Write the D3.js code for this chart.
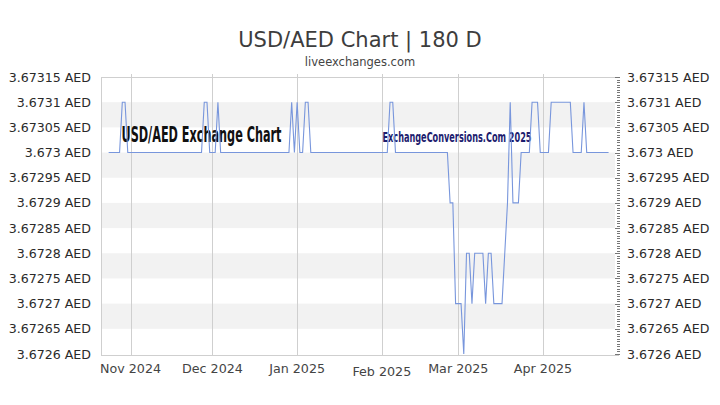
<!DOCTYPE html>
<html>
<head>
<meta charset="utf-8">
<script src="https://cdn.jsdelivr.net/npm/d3@7"></script>
<style>
  html, body { margin: 0; padding: 0; background: #fff; }
  svg { display: block; font-family: "DejaVu Sans", sans-serif; }
</style>
</head>
<body>
<svg id="chart" width="720" height="405"></svg>
<script>
// ---------- DATA ----------
const titleText = "USD/AED Chart | 180 D";
const subtitleText = "liveexchanges.com";
const startDate = "2024-10-24"; // first daily point
const rates = [
  // Oct 24 - Oct 31
  3.673, 3.673, 3.673, 3.673, 3.673, 3.6731, 3.6731, 3.673,
  // Nov 1 - Nov 30
  3.673, 3.673, 3.673, 3.673, 3.673, 3.673, 3.673, 3.673, 3.673, 3.673,
  3.673, 3.673, 3.673, 3.673, 3.673, 3.673, 3.673, 3.673, 3.673, 3.673,
  3.673, 3.673, 3.673, 3.673, 3.673, 3.673, 3.673, 3.6731, 3.6731, 3.673,
  // Dec 1 - Dec 31
  3.673, 3.673, 3.6731, 3.673, 3.673, 3.673, 3.673, 3.673, 3.673, 3.673,
  3.673, 3.673, 3.673, 3.673, 3.673, 3.673, 3.673, 3.673, 3.673, 3.673,
  3.673, 3.673, 3.673, 3.673, 3.673, 3.673, 3.673, 3.673, 3.673, 3.6731,
  3.673,
  // Jan 1 - Jan 31
  3.6731, 3.673, 3.673, 3.6731, 3.6731, 3.673, 3.673, 3.673, 3.673, 3.673,
  3.673, 3.673, 3.673, 3.673, 3.673, 3.673, 3.673, 3.673, 3.673, 3.673,
  3.673, 3.673, 3.673, 3.673, 3.673, 3.673, 3.673, 3.673, 3.673, 3.673,
  3.673,
  // Feb 1 - Feb 28
  3.673, 3.673, 3.673, 3.6731, 3.6731, 3.673, 3.673, 3.673, 3.673, 3.673,
  3.673, 3.673, 3.673, 3.673, 3.673, 3.673, 3.673, 3.673, 3.673, 3.673,
  3.673, 3.673, 3.673, 3.673, 3.673, 3.6729, 3.6729, 3.6727,
  // Mar 1 - Mar 31
  3.6727, 3.6727, 3.6726, 3.6728, 3.6728, 3.6727, 3.6728, 3.6728, 3.6728, 3.6728,
  3.6727, 3.6728, 3.6728, 3.6727, 3.6727, 3.6727, 3.6727, 3.6728, 3.6729, 3.6731,
  3.6729, 3.6729, 3.6729, 3.673, 3.673, 3.673, 3.673, 3.6731, 3.6731, 3.6731,
  3.673,
  // Apr 1 - Apr 25
  3.673, 3.673, 3.673, 3.6731, 3.6731, 3.6731, 3.6731, 3.6731, 3.6731, 3.6731,
  3.6731, 3.673, 3.673, 3.673, 3.673, 3.6731, 3.673, 3.673, 3.673, 3.673,
  3.673, 3.673, 3.673, 3.673, 3.673
];
const xTickDates = ["2024-11-01", "2024-12-01", "2025-01-01", "2025-02-01", "2025-03-01", "2025-04-01"];
const xTickLabels = ["Nov 2024", "Dec 2024", "Jan 2025", "Feb 2025", "Mar 2025", "Apr 2025"];
const yTicks = [3.6726, 3.67265, 3.6727, 3.67275, 3.6728, 3.67285, 3.6729, 3.67295, 3.673, 3.67305, 3.6731, 3.67315];
const yTickLabels = ["3.6726 AED", "3.67265 AED", "3.6727 AED", "3.67275 AED", "3.6728 AED", "3.67285 AED",
                     "3.6729 AED", "3.67295 AED", "3.673 AED", "3.67305 AED", "3.6731 AED", "3.67315 AED"];
const watermark1 = "USD/AED Exchange Chart";
const watermark2 = "ExchangeConversions.Com 2025";

// ---------- LAYOUT ----------
const plot = { left: 101, right: 618, top: 77, bottom: 354 };
const svg = d3.select("#chart");

const parse = d3.utcParse("%Y-%m-%d");
const t0 = parse(startDate);
const series = rates.map((v, i) => ({ date: d3.utcDay.offset(t0, i), value: v }));

const x = d3.scaleUtc()
  .domain([parse("2024-11-01"), parse("2025-04-01")])
  .range([130.5, 543]);
const y = d3.scaleLinear()
  .domain([yTicks[0], yTicks[yTicks.length - 1]])
  .range([plot.bottom, plot.top]);

// Title
svg.append("text")
  .attr("x", 360).attr("y", 47)
  .attr("text-anchor", "middle")
  .attr("font-size", 21).attr("fill", "#3d3d3d")
  .text(titleText);
svg.append("text")
  .attr("x", 360).attr("y", 66)
  .attr("text-anchor", "middle")
  .attr("font-size", 11.5).attr("fill", "#444")
  .text(subtitleText);

// Alternate bands
const bands = [];
for (let i = 1; i < yTicks.length - 1; i += 2) bands.push([yTicks[i], yTicks[i + 1]]);
svg.append("g").selectAll("rect").data(bands).join("rect")
  .attr("x", plot.left).attr("width", plot.right - 3 - plot.left)
  .attr("y", d => y(d[1])).attr("height", d => y(d[0]) - y(d[1]))
  .attr("fill", "#f2f2f2");

// Vertical grid lines
svg.append("g").selectAll("line").data(xTickDates).join("line")
  .attr("x1", d => Math.round(x(parse(d))) + 0.5).attr("x2", d => Math.round(x(parse(d))) + 0.5)
  .attr("y1", plot.top - 3).attr("y2", plot.bottom + 1)
  .attr("stroke", "#cfcfcf").attr("stroke-width", 1);

// Frame
const frame = svg.append("g").attr("stroke", "#cfcfcf").attr("stroke-width", 1).attr("fill", "none");
frame.append("line").attr("x1", plot.left + 0.5).attr("x2", plot.left + 0.5).attr("y1", plot.top).attr("y2", plot.bottom + 1);
frame.append("line").attr("x1", plot.left).attr("x2", plot.right + 1).attr("y1", plot.top + 0.5).attr("y2", plot.top + 0.5);
frame.append("line").attr("x1", plot.left).attr("x2", plot.right + 1).attr("y1", plot.bottom + 1.5).attr("y2", plot.bottom + 1.5);

// Right axis minor ticks
const minorStep = 0.000005;
const nMinor = Math.round((yTicks[yTicks.length - 1] - yTicks[0]) / minorStep);
const minor = d3.range(nMinor + 1).map(i => yTicks[0] + i * minorStep);
svg.append("g").selectAll("line").data(minor).join("line")
  .attr("x1", (d, i) => i % 10 === 0 ? plot.right - 3 : plot.right - 1)
  .attr("x2", plot.right + 2)
  .attr("y1", d => Math.round(y(d)) + 0.5).attr("y2", d => Math.round(y(d)) + 0.5)
  .attr("stroke", "#777").attr("stroke-width", 1);

// Y labels left & right
svg.append("g").selectAll("text").data(yTicks).join("text")
  .attr("x", 91).attr("y", d => y(d)).attr("dy", "0.36em")
  .attr("text-anchor", "end").attr("font-size", 12.6).attr("fill", "#2a2a2a")
  .text((d, i) => yTickLabels[i]);
svg.append("g").selectAll("text").data(yTicks).join("text")
  .attr("x", 627).attr("y", d => y(d)).attr("dy", "0.36em")
  .attr("text-anchor", "start").attr("font-size", 12.6).attr("fill", "#2a2a2a")
  .text((d, i) => yTickLabels[i]);

// X labels
svg.append("g").selectAll("text").data(xTickDates).join("text")
  .attr("x", d => x(parse(d)))
  .attr("y", (d, i) => xTickLabels[i].startsWith("Feb") ? 376 : 373)
  .attr("text-anchor", "middle").attr("font-size", 12.7).attr("fill", "#444")
  .text((d, i) => xTickLabels[i]);

// Watermarks
svg.append("text")
  .attr("x", 121.5).attr("y", 141.7)
  .attr("font-family", "'DejaVu Sans Condensed', 'DejaVu Sans', sans-serif")
  .attr("font-weight", "bold").attr("font-size", 20.5).attr("fill", "#111")
  .attr("textLength", 160).attr("lengthAdjust", "spacingAndGlyphs")
  .text(watermark1);
svg.append("text")
  .attr("x", 382.5).attr("y", 141.5)
  .attr("font-family", "'DejaVu Sans Condensed', 'DejaVu Sans', sans-serif")
  .attr("font-weight", "bold").attr("font-size", 14).attr("fill", "#1c1c6e")
  .attr("textLength", 149).attr("lengthAdjust", "spacingAndGlyphs")
  .text(watermark2);

// Line
const line = d3.line().x(d => x(d.date)).y(d => y(d.value));
svg.append("path").datum(series)
  .attr("d", line)
  .attr("fill", "none").attr("stroke", "#7896dc").attr("stroke-width", 1.1)
  .attr("stroke-linejoin", "miter");
</script>
</body>
</html>
